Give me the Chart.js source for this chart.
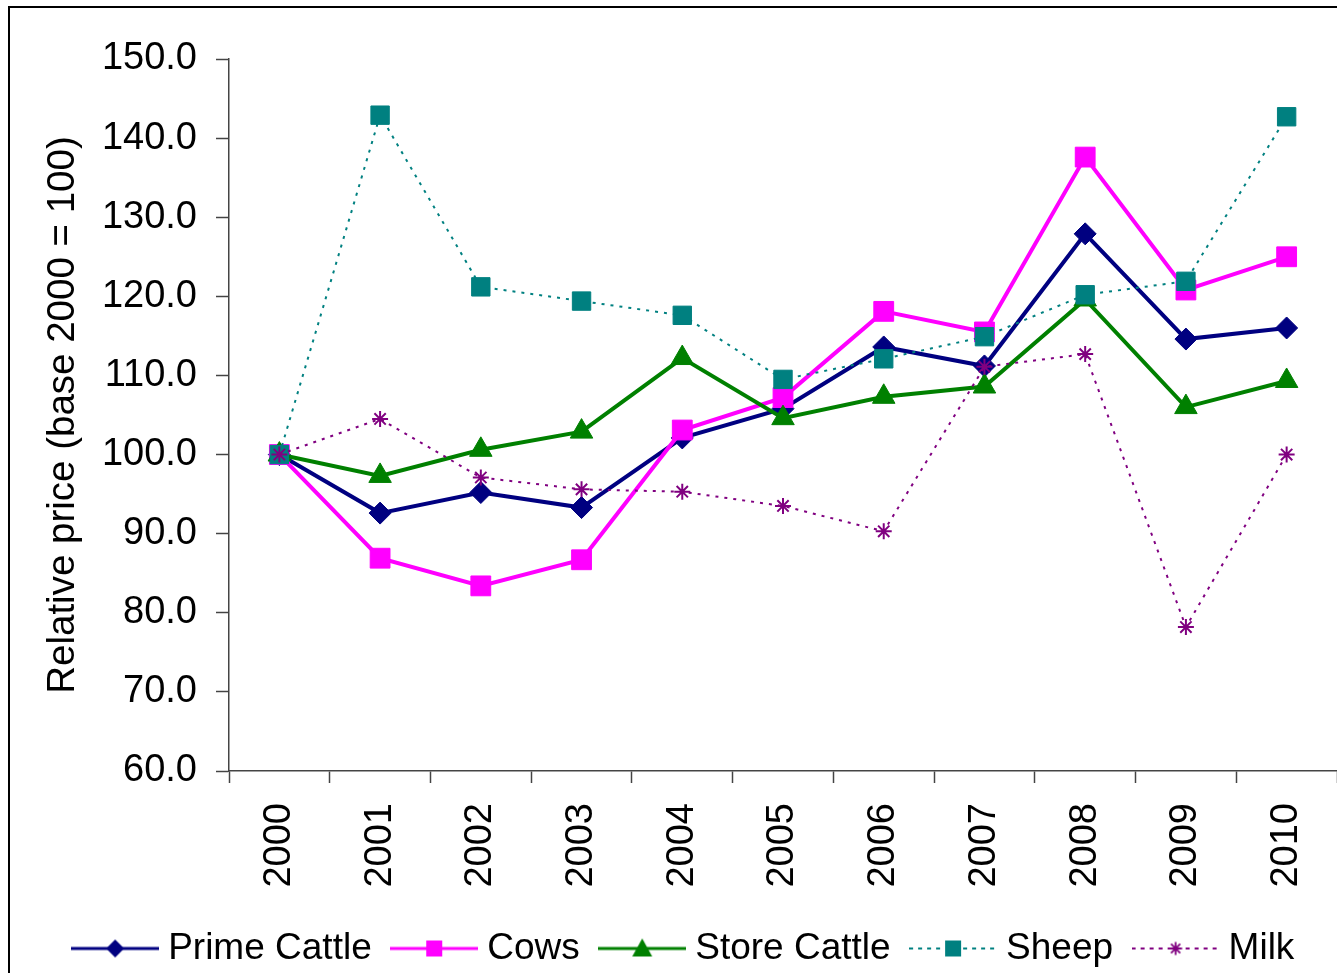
<!DOCTYPE html>
<html>
<head>
<meta charset="utf-8">
<title>Relative prices</title>
<script src="https://cdn.jsdelivr.net/npm/chart.js@4.4.1/dist/chart.umd.min.js"></script>
<style>
  html, body { margin: 0; padding: 0; background: #fff; overflow: hidden; }
  #frame {
    position: absolute; left: 8px; top: 6px; width: 2000px; height: 2000px;
    border-left: 2px solid #000; border-top: 2px solid #000;
  }
  #wrap { position: absolute; left: 0; top: 0; width: 1337px; height: 973px; }
</style>
</head>
<body>
<div id="frame"></div>
<div id="wrap"><canvas id="chart"></canvas></div>
<script>
const years = ["2000", "2001", "2002", "2003", "2004", "2005", "2006", "2007", "2008", "2009", "2010"];

const primeCattle = [100.0, 92.6, 95.2, 93.3, 102.1, 105.8, 113.6, 111.2, 127.9, 114.6, 116.0];
const cows        = [100.0, 86.9, 83.4, 86.7, 103.1, 107.2, 118.1, 115.5, 137.6, 120.8, 125.0];
const storeCattle = [100.0, 97.3, 100.6, 102.9, 112.2, 104.6, 107.3, 108.6, 119.6, 106.0, 109.3];
const sheep       = [100.0, 142.9, 121.2, 119.4, 117.6, 109.5, 112.1, 114.9, 120.2, 121.9, 142.7];
const milk        = [100.0, 104.5, 97.1, 95.6, 95.3, 93.5, 90.3, 111.1, 112.7, 78.2, 100.0];

const yTicks = { min: 60, max: 150, step: 10 };

const FONT = "'Liberation Sans', Arial, sans-serif";
const NAVY = "#000080", MAGENTA = "#FF00FF", GREEN = "#008000", TEAL = "#008080", PURPLE = "#800080";

// little line + marker sample for the legend
function legendSymbol(color, shape, dashed) {
  const c = document.createElement("canvas");
  c.width = 88;
  c.height = 24;
  const g = c.getContext("2d");
  g.strokeStyle = color;
  g.fillStyle = color;
  g.lineWidth = dashed ? 2 : 3;
  if (dashed) g.setLineDash([4, 5]);
  g.beginPath();
  g.moveTo(0, 12);
  g.lineTo(88, 12);
  g.stroke();
  g.setLineDash([]);
  const x = 44, y = 12;
  g.beginPath();
  if (shape === "diamond") {
    g.moveTo(x, y - 9); g.lineTo(x + 9, y); g.lineTo(x, y + 9); g.lineTo(x - 9, y);
    g.closePath(); g.fill();
  } else if (shape === "square") {
    g.fillRect(x - 8, y - 8, 16, 16);
  } else if (shape === "triangle") {
    g.moveTo(x, y - 10); g.lineTo(x + 10, y + 8); g.lineTo(x - 10, y + 8);
    g.closePath(); g.fill();
  } else if (shape === "star") {
    g.lineWidth = 1.8;
    for (let i = 0; i < 4; i++) {
      const a = i * Math.PI / 4;
      g.moveTo(x - 6.5 * Math.cos(a), y - 6.5 * Math.sin(a));
      g.lineTo(x + 6.5 * Math.cos(a), y + 6.5 * Math.sin(a));
    }
    g.stroke();
  }
  return c;
}

const series = [
  { label: "Prime Cattle", data: primeCattle, color: NAVY, style: "rectRot", radius: 11, dashed: false, shape: "diamond" },
  { label: "Cows", data: cows, color: MAGENTA, style: "rect", radius: 14, dashed: false, shape: "square" },
  { label: "Store Cattle", data: storeCattle, color: GREEN, style: "triangle", radius: 13, dashed: false, shape: "triangle" },
  { label: "Sheep", data: sheep, color: TEAL, style: "rect", radius: 13, dashed: true, shape: "square" },
  { label: "Milk", data: milk, color: PURPLE, style: "star", radius: 8, dashed: true, shape: "star" },
];

const datasets = series.map((s, i) => ({
  label: s.label,
  data: s.data,
  borderColor: s.color,
  backgroundColor: s.color,
  borderWidth: s.dashed ? 2 : 4,
  borderDash: s.dashed ? [3, 6] : [],
  tension: 0,
  pointStyle: s.style,
  pointRadius: s.radius,
  pointHoverRadius: s.radius,
  pointBackgroundColor: s.color,
  pointBorderColor: s.color,
  pointBorderWidth: s.style === "star" ? 2 : 1,
  order: series.length - i,
}));

const axisColor = "#444";

new Chart(document.getElementById("chart"), {
  type: "line",
  data: { labels: years, datasets },
  options: {
    responsive: true,
    maintainAspectRatio: false,
    devicePixelRatio: 1,
    animation: false,
    layout: { autoPadding: false, padding: { top: 59, left: 38, right: 0, bottom: -4 } },
    plugins: {
      tooltip: { enabled: false },
      legend: {
        position: "bottom",
        align: "center",
        labels: {
          usePointStyle: true,
          pointStyleWidth: 69,
          boxHeight: 24,
          padding: 28,
          color: "#000",
          font: { family: FONT, size: 37 },
          generateLabels: () => series.map((s, i) => ({
            text: s.label,
            fillStyle: s.color,
            strokeStyle: s.color,
            lineWidth: 0,
            pointStyle: legendSymbol(s.color, s.shape, s.dashed),
            hidden: false,
            datasetIndex: i,
            fontColor: "#000",
          })),
        },
      },
    },
    scales: {
      x: {
        offset: true,
        grid: {
          offset: true,
          drawOnChartArea: false,
          drawTicks: true,
          tickLength: 12,
          tickColor: axisColor,
          tickWidth: 1.5,
        },
        border: { color: axisColor, width: 1.5 },
        ticks: {
          autoSkip: false,
          minRotation: 90,
          maxRotation: 90,
          padding: 20,
          color: "#000",
          font: { family: FONT, size: 38 },
        },
        afterFit: (scale) => {
          scale.height = 131;
          scale.paddingLeft = 0;
          scale.paddingRight = 0;
        },
      },
      y: {
        min: yTicks.min,
        max: yTicks.max,
        grid: {
          drawOnChartArea: false,
          drawTicks: true,
          tickLength: 13,
          tickColor: axisColor,
          tickWidth: 1.5,
        },
        border: { color: axisColor, width: 1.5 },
        ticks: {
          stepSize: yTicks.step,
          padding: 19,
          color: "#000",
          font: { family: FONT, size: 38 },
          callback: (v) => Number(v).toFixed(1),
        },
        title: {
          display: true,
          text: "Relative price (base 2000 = 100)",
          color: "#000",
          font: { family: FONT, size: 38.5 },
          padding: { top: 2, bottom: 0 },
        },
        afterFit: (scale) => { scale.width = 191; },
      },
    },
  },
});
</script>
</body>
</html>
